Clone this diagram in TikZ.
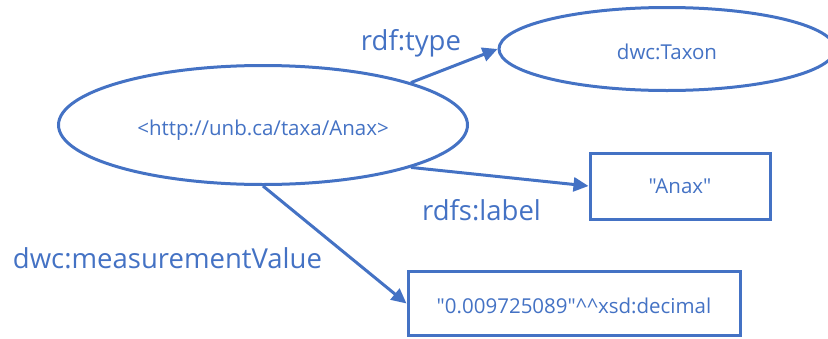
\documentclass[tikz,border=0pt]{standalone}
\usepackage{fontspec}
\setmainfont{Open Sans}[Ligatures=TeXOff]
\usetikzlibrary{shapes.geometric,arrows.meta}
\definecolor{rdfblue}{HTML}{4472C4}
\begin{document}
\begin{tikzpicture}[x=1pt,y=-1pt,
  res/.style={ellipse,draw=rdfblue,line width=3pt,inner sep=0pt},
  lit/.style={rectangle,draw=rdfblue,line width=3pt,inner sep=0pt},
  ntext/.style={text=rdfblue,font=\fontsize{20.5}{24}\selectfont,text height=20pt,text depth=0pt},
  prop/.style={text=rdfblue,font=\fontsize{27.5}{32}\selectfont,anchor=base,inner sep=0pt},
  link/.style={draw=rdfblue,line width=3pt,-{Triangle[length=15pt,width=14pt]}}]
\useasboundingbox (0,0) rectangle (828,338);
% resources
\node[res,minimum width=409pt,minimum height=119pt,ntext] (anax) at (263,125) {<http://unb.ca/taxa/Anax>};
\node[res,minimum width=336pt,minimum height=83pt,ntext] (taxon) at (667,49) {dwc:Taxon};
% literals
\node[lit,minimum width=180pt,minimum height=66pt,ntext,text height=14pt] (label) at (680,186) {"Anax"};
\node[lit,minimum width=332pt,minimum height=64pt,ntext] (value) at (574,303.5) {"0.009725089"\textasciicircum\textasciicircum xsd:decimal};
% properties
\draw[link] (anax.16) -- (taxon.west);
\draw[link] (anax.-16) -- (label.west);
\draw[link] (anax.south) -- (value.west);
\node[prop] (ltype) at (411,50) {rdf:type};
\node[prop] (llabel) at (481.5,220) {rdfs:label};
\node[prop] (lvalue) at (167.5,268) {dwc:measurementValue};
\end{tikzpicture}
\end{document}
